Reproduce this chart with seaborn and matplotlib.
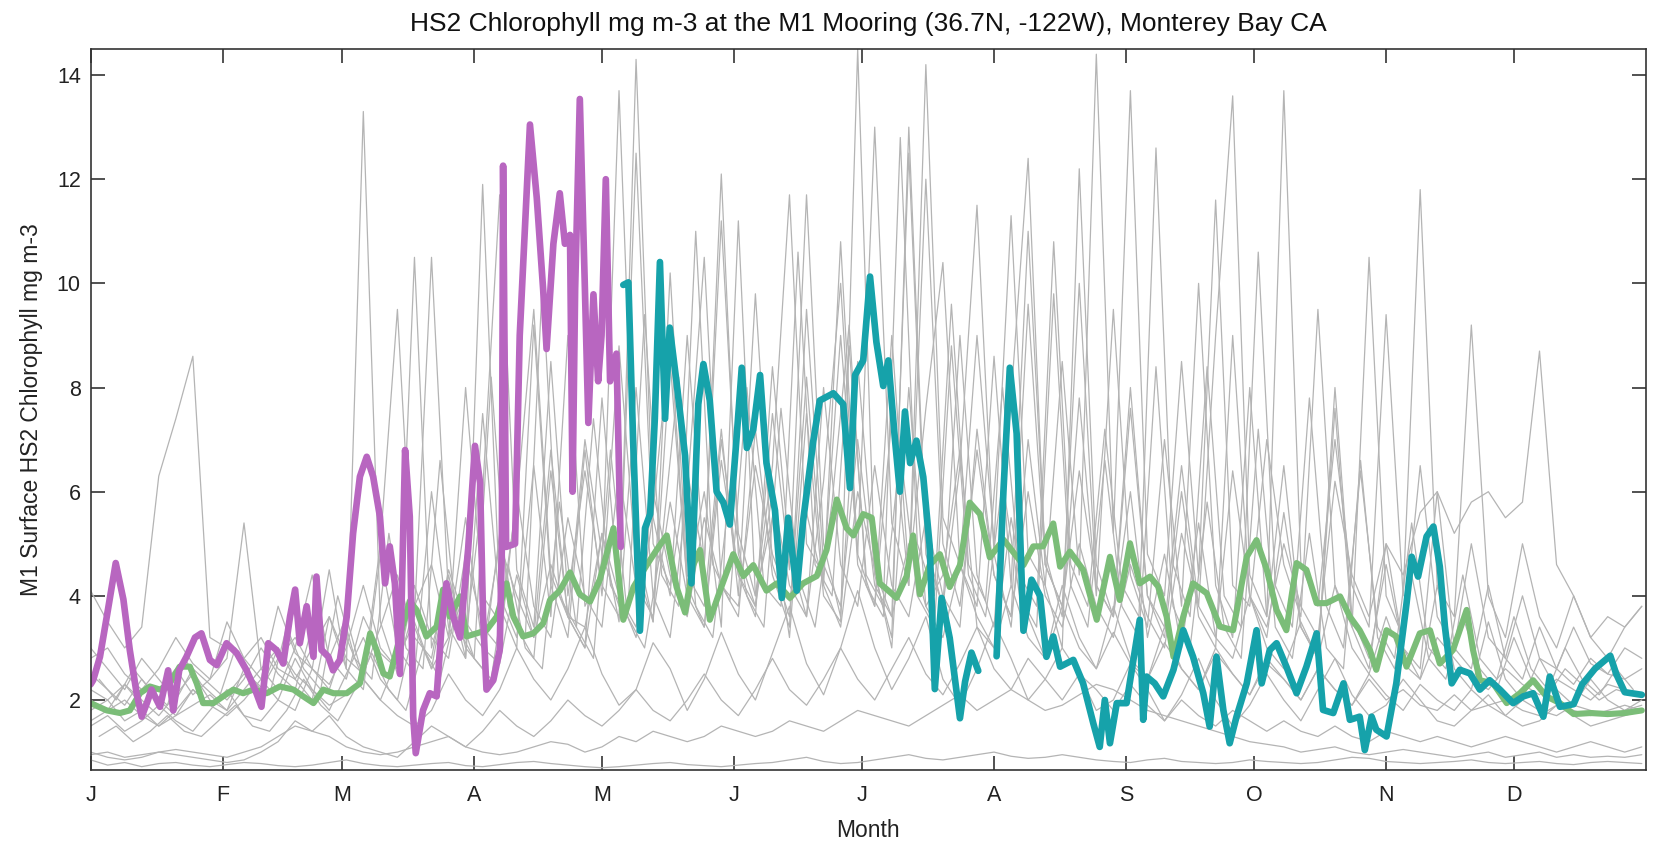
import numpy as np
import pandas as pd
import matplotlib
matplotlib.use("Agg")
import matplotlib.pyplot as plt
import seaborn as sns

# --- eixo do tempo (dia do ano) ---
month_starts = [0, 31, 59, 90, 120, 151, 181, 212, 243, 273, 304, 334]
month_labels = ["J", "F", "M", "A", "M", "J", "J", "A", "S", "O", "N", "D"]
y_ticks = [2, 4, 6, 8, 10, 12, 14]

# anos anteriores (cinza), amostrados a cada 4 dias
gray_step = 4
gray_a = [0.85, 0.75, 0.8, 0.72, 0.78, 0.8, 0.75, 0.72, 0.76, 0.8,
          0.78, 0.74, 0.72, 0.75, 0.8, 0.85, 0.78, 0.74, 0.72, 0.75,
          0.78, 0.8, 0.74, 0.72, 0.76, 0.8, 0.82, 0.78, 0.75, 0.72,
          0.7, 0.72, 0.75, 0.78, 0.8, 0.76, 0.74, 0.72, 0.75, 0.78,
          0.8, 0.85, 0.9, 0.82, 0.78, 0.8, 0.85, 0.9, 0.95, 0.88,
          0.85, 0.9, 0.95, 1.0, 0.92, 0.88, 0.9, 0.95, 0.9, 0.85,
          0.82, 0.8, 0.85, 0.88, 0.82, 0.8, 0.78, 0.8, 0.85, 0.82,
          0.8, 0.78, 0.8, 0.85, 0.9, 0.88, 0.82, 0.8, 0.78, 0.8,
          0.82, 0.85, 0.8, 0.78, 0.8, 0.82, 0.78, 0.76, 0.8, 0.82,
          0.8, 0.78]
gray_b = [0.95, 1.0, 0.9, 0.95, 1.0, 1.05, 1.0, 0.95, 0.9, 1.0,
          1.1, 1.3, 1.5, 1.4, 1.3, 1.1, 1.0, 0.95, 1.0, 1.1,
          1.2, 1.3, 1.1, 1.0, 0.95, 1.0, 1.1, 1.2, 1.15, 1.0,
          1.1, 1.3, 1.2, 1.4, 1.3, 1.2, 1.3, 1.5, 1.4, 1.3,
          1.4, 1.6, 1.5, 1.4, 1.6, 1.8, 1.7, 1.6, 1.5, 1.7,
          1.9, 2.1, 1.8, 2.0, 2.2, 2.0, 1.8, 1.9, 2.1, 2.3,
          2.2, 2.0, 1.8, 1.7, 1.6, 1.5, 1.4, 1.3, 1.2, 1.15,
          1.1, 1.0, 1.05, 1.1, 1.0, 0.95, 1.0, 1.05, 1.0, 0.95,
          0.9, 0.95, 1.0, 0.9, 0.95, 1.0, 0.9, 0.95, 0.9, 0.92,
          0.9, 0.95]
gray_c = [2.2, 2.0, 1.6, 1.8, 1.5, 1.7, 1.9, 2.1, 1.8, 2.2,
          2.6, 3.0, 2.5, 2.2, 1.9, 2.1, 2.4, 2.0, 1.7, 1.5,
          1.8, 2.5, 2.0, 1.7, 2.2, 3.0, 2.4, 2.0, 2.6, 3.4,
          2.5, 1.9, 2.2, 3.1, 2.6, 1.8, 2.4, 3.3, 2.5, 2.0,
          2.9, 3.8, 2.7, 2.1, 3.0, 4.1, 3.0, 2.2, 2.8, 3.6,
          2.4, 1.9, 2.6, 3.5, 2.8, 2.0, 2.4, 3.0, 2.5, 1.8,
          2.0, 2.7, 2.2, 1.6, 2.1, 2.8, 2.0, 1.5, 1.9, 2.5,
          2.0, 1.6, 2.2, 2.8, 2.1, 1.7, 1.9, 2.4, 2.0, 1.6,
          1.5, 1.8, 2.1, 1.7, 1.5, 1.6, 1.9, 1.7, 1.5, 1.6,
          1.7, 1.8]
gray_d = [4.1, 3.5, 3.0, 3.4, 6.3, 7.4, 8.6, 3.2, 3.0, 2.8,
          3.2, 2.6, 2.4, 3.0, 3.6, 2.8, 2.5, 3.4, 4.4, 3.2,
          2.8, 4.5, 3.5, 3.0, 5.0, 4.0, 3.2, 4.6, 3.6, 3.4,
          5.2, 4.0, 3.4, 6.0, 4.4, 3.6, 5.5, 4.2, 3.8, 6.5,
          4.8, 3.9, 5.6, 4.2, 3.4, 6.0, 4.5, 3.6, 5.0, 3.8,
          3.2, 4.6, 3.6, 3.0, 4.2, 3.2, 2.8, 3.8, 3.0, 2.6,
          3.3, 2.7, 2.4, 3.1, 2.6, 2.2, 2.9, 2.5, 2.1, 2.7,
          2.4, 2.0, 2.6, 2.2, 1.9, 2.5, 2.1, 1.8, 2.3, 2.0,
          1.8, 2.2, 1.9, 1.7, 2.0, 1.8, 1.7, 1.9, 1.8, 1.7,
          1.8, 1.9]
gray_e = [2.8, 3.0, 2.5, 2.2, 2.6, 3.2, 2.7, 2.4, 3.5, 2.8,
          2.4, 3.8, 2.9, 2.6, 4.5, 2.6, 13.3, 3.5, 2.5, 10.5,
          3.0, 4.2, 2.8, 11.9, 4.0, 3.2, 6.5, 3.6, 9.0, 3.8,
          4.5, 13.7, 5.0, 3.5, 8.5, 4.2, 6.0, 3.4, 11.2, 4.0,
          5.5, 3.2, 7.5, 4.0, 3.5, 14.5, 4.5, 3.0, 8.0, 3.8,
          4.4, 6.8, 3.4, 3.0, 5.5, 3.6, 2.8, 4.2, 3.2, 2.6,
          3.8, 2.8, 2.4, 3.4, 2.6, 2.2, 3.0, 2.5, 2.1, 2.8,
          2.4, 2.0, 2.6, 2.2, 1.9, 2.4, 2.0, 2.2, 1.9, 1.8,
          2.1, 1.8, 1.9, 2.0, 1.8, 1.7, 1.9, 1.8, 1.7, 1.8,
          1.9, 1.8]
gray_f = [1.8, 2.0, 2.3, 1.9, 2.2, 2.6, 2.1, 2.4, 2.8, 5.4,
          2.6, 2.2, 3.0, 4.4, 2.8, 3.6, 2.4, 5.0, 9.5, 3.6,
          10.5, 4.0, 3.2, 6.0, 11.7, 4.5, 3.4, 8.5, 4.0, 6.4,
          4.2, 3.6, 14.3, 5.5, 4.0, 9.0, 4.6, 12.1, 4.8, 3.8,
          7.5, 4.5, 11.7, 5.0, 3.6, 8.5, 4.4, 3.2, 13.0, 5.0,
          3.8, 6.5, 11.5, 4.8, 3.4, 7.0, 4.2, 3.0, 12.2, 4.6,
          3.6, 6.0, 3.2, 4.8, 3.0, 5.4, 3.2, 2.8, 4.0, 3.0,
          2.6, 3.5, 2.8, 4.2, 3.0, 2.5, 3.6, 2.7, 2.4, 3.2,
          2.8, 2.4, 2.2, 2.6, 2.3, 2.1, 2.4, 2.2, 2.0, 2.3,
          2.2, 2.1]
gray_g = [2.5, 2.2, 1.9, 2.4, 2.0, 1.7, 2.2, 1.9, 2.1, 2.5,
          2.2, 2.8, 3.2, 2.6, 2.3, 3.0, 4.2, 3.0, 2.6, 3.8,
          4.6, 3.2, 8.0, 4.0, 3.5, 5.8, 9.5, 4.4, 3.6, 7.0,
          4.8, 3.8, 12.5, 5.0, 4.2, 6.4, 4.6, 11.2, 5.2, 4.0,
          6.5, 11.7, 5.0, 4.4, 9.0, 4.8, 13.0, 5.4, 4.2, 14.2,
          5.5, 4.6, 9.0, 5.0, 11.3, 4.8, 4.2, 8.5, 4.4, 14.4,
          5.2, 13.7, 4.8, 4.0, 8.5, 4.4, 11.6, 4.2, 3.8, 7.0,
          4.6, 3.6, 9.5, 4.2, 3.4, 10.5, 4.0, 3.2, 6.5, 3.6,
          3.0, 5.0, 3.2, 2.8, 4.0, 2.8, 2.6, 3.4, 2.7, 2.5,
          3.0, 2.8]
gray_h = [1.6, 1.8, 2.0, 1.7, 1.5, 1.8, 2.2, 1.9, 1.7, 2.0,
          2.4, 2.0, 1.8, 2.6, 2.2, 3.2, 2.4, 2.0, 2.8, 3.5,
          2.6, 3.2, 5.5, 3.0, 2.7, 4.4, 3.2, 6.8, 3.6, 3.0,
          5.2, 3.5, 8.0, 4.0, 3.2, 6.0, 10.5, 4.2, 3.6, 7.2,
          4.4, 3.4, 9.5, 4.6, 3.8, 7.0, 4.2, 3.6, 12.5, 4.8,
          3.8, 9.0, 4.4, 3.4, 7.8, 12.4, 4.6, 3.8, 10.0, 4.2,
          3.6, 8.0, 4.0, 3.4, 6.5, 3.8, 9.0, 13.6, 4.4, 3.6,
          13.7, 4.6, 3.8, 7.0, 4.2, 3.4, 9.4, 4.0, 11.8, 4.2,
          3.6, 9.2, 4.0, 3.2, 5.0, 3.6, 3.0, 4.0, 3.2, 3.6,
          3.4, 3.8]
gray_i = [3.0, 2.6, 2.2, 2.8, 2.4, 2.0, 2.6, 2.3, 2.0, 2.4,
          3.0, 2.5, 2.2, 3.4, 2.8, 2.4, 3.6, 2.9, 2.6, 4.2,
          3.2, 2.8, 4.8, 3.4, 3.0, 6.0, 3.8, 3.2, 5.5, 4.0,
          3.4, 6.4, 4.2, 3.6, 5.8, 4.0, 3.4, 7.0, 4.4, 3.8,
          6.0, 4.2, 3.6, 8.0, 4.6, 3.8, 6.5, 4.2, 3.6, 5.5,
          4.0, 3.4, 7.2, 4.4, 3.6, 6.0, 4.0, 3.4, 5.0, 3.8,
          3.2, 4.6, 3.6, 3.0, 5.2, 3.8, 3.2, 6.4, 4.0, 3.4,
          5.0, 3.8, 3.2, 6.2, 4.4, 3.6, 5.0, 4.4, 5.6, 6.0,
          5.2, 5.8, 6.0, 5.5, 5.8, 8.7, 4.6, 4.0, 3.2, 2.8,
          3.4, 3.8]
gray_j = [1.0, 0.9, 0.85, 0.9, 1.0, 0.95, 0.9, 0.85, 0.8, 0.85,
          1.0, 1.2, 1.6, 1.4, 1.7, 1.3, 1.1, 1.0, 0.9, 1.2,
          1.5, 1.3, 1.1, 1.4, 1.8, 1.5, 1.3, 1.6, 2.0, 1.7,
          1.5, 1.8, 2.2, 1.8, 1.6, 2.0, 2.5, 2.0, 1.7, 2.2,
          2.8, 2.2, 1.9, 2.4, 3.0, 2.4, 2.0, 2.6, 3.2, 2.5,
          2.1, 2.7, 3.4, 2.6, 2.2, 2.8, 2.4, 2.0, 2.5, 2.2,
          1.8, 2.3, 1.9, 1.6, 2.0, 1.7, 1.5, 1.8, 1.6, 1.4,
          1.6, 1.4, 1.3, 1.5, 1.3, 1.2, 1.4, 1.3, 1.2, 1.3,
          1.2, 1.1, 1.2, 1.3, 1.2, 1.1, 1.0, 1.1, 1.2, 1.1,
          1.0, 1.1]
gray_k = [2.0, 1.8, 2.3, 2.0, 1.7, 2.1, 2.5, 2.0, 1.8, 2.6,
          2.2, 3.0, 2.4, 2.0, 3.6, 2.6, 2.2, 4.8, 3.0, 2.5,
          6.0, 3.4, 2.8, 7.5, 3.8, 3.0, 9.2, 4.2, 3.2, 6.8,
          4.0, 8.8, 4.6, 3.5, 10.2, 4.4, 3.8, 7.2, 4.0, 9.8,
          4.6, 3.6, 8.2, 4.2, 10.8, 4.8, 3.8, 9.0, 4.4, 7.6,
          10.4, 4.6, 3.8, 8.6, 4.2, 11.0, 4.8, 3.6, 7.8, 4.0,
          9.5, 4.4, 3.4, 7.0, 3.8, 10.0, 4.2, 3.2, 8.0, 3.6,
          6.5, 3.4, 2.8, 7.6, 3.4, 2.6, 5.0, 3.0, 2.4, 4.2,
          2.6, 2.2, 3.5, 2.4, 2.0, 2.8, 2.2, 1.9, 2.4, 2.0,
          1.8, 2.0]
gray_l = [1.5, 1.7, 1.4, 1.6, 1.9, 1.6, 1.4, 1.8, 2.2, 1.7,
          1.6, 2.0, 2.8, 2.2, 1.8, 2.5, 3.2, 2.4, 2.0, 3.4,
          2.6, 4.4, 3.0, 2.6, 5.2, 3.4, 2.8, 6.4, 3.6, 3.0,
          7.8, 4.0, 3.2, 5.6, 9.0, 4.2, 3.4, 6.6, 4.4, 3.6,
          8.4, 4.8, 3.6, 6.2, 10.0, 4.6, 3.8, 7.4, 4.2, 12.0,
          5.0, 3.8, 6.8, 4.4, 3.6, 9.6, 4.6, 3.8, 6.4, 4.2,
          3.6, 7.6, 4.0, 3.2, 6.0, 3.6, 3.0, 9.0, 4.0, 3.2,
          5.6, 3.4, 2.8, 8.0, 3.6, 2.8, 4.6, 3.0, 2.6, 6.0,
          3.0, 2.6, 4.2, 2.8, 2.4, 3.4, 2.6, 2.3, 2.8, 2.5,
          2.4, 2.6]
# dois anos com amostragem deslocada em 2 dias (dias 2, 6, ..., 362)
gray_m = [2.4, 2.0, 2.6, 2.2, 1.9, 2.8, 2.3, 2.0, 3.0, 2.4,
          2.1, 3.4, 2.6, 2.2, 4.0, 2.8, 2.4, 5.2, 3.0, 2.6,
          6.6, 3.4, 2.8, 8.2, 3.8, 3.2, 10.0, 4.0, 3.4, 7.4,
          4.2, 3.6, 9.4, 4.4, 3.8, 11.0, 4.6, 3.9, 8.0, 4.2,
          3.8, 10.6, 4.6, 4.0, 8.8, 4.4, 3.8, 12.8, 5.0, 4.0,
          9.6, 4.6, 3.9, 8.0, 4.4, 3.8, 10.8, 4.6, 3.8, 7.2,
          4.2, 3.6, 12.6, 4.6, 3.6, 8.4, 4.0, 3.4, 10.6, 4.2,
          3.4, 7.8, 3.8, 3.0, 6.4, 3.4, 2.8, 5.4, 3.0, 2.6,
          4.4, 2.8, 2.4, 3.6, 2.6, 2.2, 3.0, 2.4, 2.1, 2.6,
          2.2]
gray_n = [1.3, 1.5, 1.2, 1.4, 1.7, 1.4, 1.3, 1.6, 1.9, 1.5,
          1.4, 1.8, 2.4, 1.9, 1.6, 2.2, 2.9, 2.2, 1.8, 3.0,
          2.4, 3.8, 2.8, 2.4, 4.6, 3.0, 2.6, 5.8, 3.4, 2.8,
          6.8, 3.6, 3.0, 5.0, 8.2, 3.8, 3.2, 6.0, 4.0, 3.4,
          7.6, 4.4, 3.4, 5.8, 9.2, 4.2, 3.6, 6.8, 4.0, 3.4,
          8.8, 4.4, 3.6, 6.2, 4.0, 3.4, 9.8, 4.2, 3.4, 6.6,
          3.8, 3.2, 8.4, 3.8, 3.0, 5.8, 3.4, 2.8, 7.2, 3.4,
          2.8, 5.2, 3.0, 2.6, 6.6, 3.2, 2.6, 4.4, 2.8, 2.4,
          3.6, 2.6, 2.2, 3.2, 2.4, 2.1, 2.6, 2.3, 2.0, 2.2,
          2.1]

# ano em destaque 1 (roxo), jan-mai
purple_day = [0, 0.6, 2.2, 3.8, 5.9, 7.7, 9.2, 10.8, 12, 13.2, 14.3, 16.3, 18.2, 19.4,
              20.8, 22.5, 24.5, 26, 28, 29.6, 31.9, 34.3, 36.6, 38.6, 40.1, 41.7, 43.6,
              45.2, 46.8, 48, 49.1, 50.7, 52.3, 53, 54.2, 55.8, 56.9, 58.5, 60.1, 61.6,
              63.2, 64.8, 66.3, 67.9, 69.1, 70.2, 71.4, 72.6, 73.8, 74.9, 75.7, 76.3, 78,
              79.6, 81.2, 82.3, 83.5, 85.1, 86.7, 88.6, 90.2, 91.4, 92.1, 92.9, 94.5, 96,
              96.5, 96.8, 97.5, 99.6, 100.7, 103.1, 104.7, 106.2, 107, 108.6, 110.1, 111.3,
              112.5, 113.1, 113.7, 114.8, 116, 116.8, 118, 119.1, 119.9, 120.9, 121.9,
              123.4, 124.4]
purple_chl = [2.3, 2.38, 2.83, 3.6, 4.63, 3.93, 2.96, 2.13, 1.68, 1.94, 2.2, 1.87, 2.57, 1.8,
              2.57, 2.83, 3.2, 3.28, 2.77, 2.67, 3.09, 2.9, 2.57, 2.2, 1.87, 3.09, 2.96,
              2.7, 3.6, 4.12, 3.09, 3.8, 2.83, 4.37, 2.96, 2.83, 2.57, 2.77, 3.6, 5.2,
              6.29, 6.67, 6.29, 5.52, 4.24, 4.95, 4.24, 2.5, 6.8, 5.52, 1.68, 0.98, 1.8,
              2.13, 2.07, 3.34, 4.24, 3.6, 3.2, 4.9, 6.88, 6.17, 3.6, 2.2, 2.38, 2.96,
              4.9, 12.26, 4.94, 5.0, 9.0, 13.05, 11.64, 9.88, 8.74, 10.76, 11.73, 10.76,
              10.93, 6.0, 9.88, 13.54, 9.88, 7.32, 9.79, 8.12, 9.0, 12.0, 8.12,
              8.65, 4.94]

# ano em destaque 2 (azul-petroleo), mai-dez, com falha em fins de julho
teal_day = [125, 126.2, 127.3, 128.9, 130.1, 131.3, 132.4, 133.6, 134.8, 135.9, 137.5, 139.5,
            141, 142.6, 143.8, 145.3, 146.9, 148.5, 150, 151.6, 152.8, 154, 155.5, 157.1,
            158.6, 160.6, 162.2, 163.7, 165.7, 167.2, 169.6, 171.1, 174.3, 176.6, 178.2,
            179.4, 181.3, 182.9, 184.4, 186, 187.2, 188.7, 189.9, 191.1, 192.3, 193.8,
            195.4, 196.9, 198.1, 199.7, 201.6, 204, 205.2, 206.7, 208.3, 210,
            212.6, 214.2, 215.7, 217.3, 218.9, 220.8, 222.8, 224.3, 225.9, 227.5, 230.6,
            232.9, 235.3, 236.8, 238, 239.2, 240.8, 243.1, 244.7, 246.2, 247, 247.8, 249.7,
            251.7, 254.1, 256.4, 258.7, 261.1, 262.6, 264.2, 265.8, 267.3, 268.9, 271.3,
            273.6, 274.8, 276.7, 278.3, 280.6, 283, 285.3, 287.7, 289.2, 291.6, 294,
            295.5, 297.8, 299, 300.6, 301.7, 304.1, 306.4, 308.8, 310, 311.5, 313.5,
            315.1, 316.6, 317.8, 319.4, 321.3, 323.7, 326, 328.3, 330.7, 333.8, 336.2,
            338.5, 340.9, 342.4, 344.8, 348, 350, 353, 356.6, 358, 360, 364]
teal_chl = [9.97, 10.02, 7.0, 3.33, 5.3, 5.57, 7.4, 10.41, 7.4, 9.15, 8.1, 6.69,
            4.24, 7.68, 8.45, 7.75, 6.0, 5.79, 5.37, 7.05, 8.38, 6.84, 7.19, 8.24,
            6.55, 5.64, 3.96, 5.5, 4.1, 5.44, 6.98, 7.75, 7.89, 7.68, 6.07,
            8.24, 8.52, 10.13, 8.87, 8.03, 8.52, 7.05, 6.0, 7.54, 6.55, 6.98,
            6.28, 4.95, 2.21, 3.96, 3.19, 1.65, 2.35, 2.91, 2.56, np.nan,
            2.84, 6.0, 8.38, 7.12, 3.33, 4.31, 4.0, 2.83, 3.22, 2.64, 2.77,
            2.32, 1.55, 1.1, 2.0, 1.17, 1.94, 1.94, 2.77, 3.54, 1.62, 2.45, 2.32,
            2.07, 2.58, 3.34, 2.83, 2.13, 1.49, 2.83, 1.81, 1.17, 1.68, 2.32,
            3.34, 2.32, 2.96, 3.09, 2.64, 2.13, 2.64, 3.28, 1.81, 1.75, 2.32,
            1.62, 1.68, 1.04, 1.68, 1.43, 1.3, 2.32, 3.86, 4.75, 4.37, 5.14,
            5.33, 4.56, 3.41, 2.32, 2.58, 2.51, 2.2, 2.38, 2.2, 1.94, 2.07,
            2.13, 1.68, 2.45, 1.87, 1.92, 2.3, 2.6, 2.85, 2.5, 2.15, 2.1]

# media climatologica (verde)
green_day = [0, 3.8, 6.9, 9.2, 11.6, 13.9, 16.3, 18.6, 20.9, 23.3, 24.9, 26.4, 28.8, 31.1,
             33.5, 35.8, 38.2, 41.3, 44.4, 47.6, 49.9, 52.3, 54.6, 57, 60.1, 63.2, 65.6,
             67.1, 68.7, 70.2, 71.8, 73.4, 74.9, 76.5, 78.8, 81.2, 82.7, 84.3, 86.7, 88.2,
             90.6, 92.9, 95.3, 97.6, 99.2, 101.5, 103.9, 106.2, 107.8, 110.1, 112.5, 114.8,
             117.2, 119.5, 122.7, 125, 127.4, 130.5, 132.8, 135.2, 137.5, 139.5, 141.4, 143,
             145.3, 147.7, 150.8, 153.2, 155.5, 158.6, 161, 164.1, 167.2, 170.4, 172.7,
             175.1, 177.4, 179, 181.3, 183.3, 185.2, 187.2, 189.1, 191.5, 193, 194.6, 196.9,
             199.3, 201.6, 204, 206.3, 208.7, 211, 214.2, 218.9, 221.2, 223.5, 225.9, 227.5,
             229.8, 232.9, 236.1, 239.2, 241.5, 243.9, 246.2, 248.6, 250.5, 252.5, 254.1,
             256.4, 258.7, 261.9, 265, 268.1, 271.3, 273.6, 276, 278.3, 280.6, 283, 285.3,
             287.7, 290, 293.2, 295.5, 297.8, 300.2, 301.7, 304.1, 306.4, 308.8, 311.9,
             314.3, 316.6, 319.7, 322.9, 324.4, 326, 329.1, 332.3, 335.4, 338.5, 341.6,
             344.8, 348, 352, 356, 360, 364]
green_chl = [1.94, 1.8, 1.75, 1.8, 2.13, 2.26, 2.2, 2.32, 2.64, 2.64, 2.32, 1.94, 1.94, 2.07,
             2.2, 2.13, 2.2, 2.13, 2.26, 2.2, 2.07, 1.94, 2.2, 2.13, 2.13, 2.32, 3.28,
             2.96, 2.51, 2.45, 2.96, 3.47, 3.9, 3.73, 3.22, 3.41, 4.12, 3.6, 3.99, 3.22,
             3.28, 3.34, 3.6, 4.24, 3.6, 3.22, 3.28, 3.47, 3.92, 4.1, 4.45, 4.03,
             3.89, 4.31, 5.3, 3.54, 4.17, 4.59, 4.88, 5.16, 4.17, 3.68, 4.59, 4.88,
             3.54, 4.1, 4.8, 4.38, 4.59, 4.1, 4.24, 3.96, 4.24, 4.38, 4.88,
             5.85, 5.3, 5.16, 5.57, 5.5, 4.24, 4.1, 3.96, 4.38, 5.16, 4.03, 4.59,
             4.8, 4.17, 4.59, 5.79, 5.57, 4.74, 5.08, 4.59, 4.95, 4.95, 5.39, 4.56,
             4.85, 4.5, 3.54, 4.75, 3.92, 5.01, 4.24, 4.37, 4.18, 3.6, 2.83,
             3.6, 4.24, 4.05, 3.41, 3.34, 4.75, 5.07, 4.5, 3.73, 3.34, 4.63, 4.5,
             3.86, 3.86, 3.99, 3.6, 3.34, 2.96, 2.58, 3.34, 3.22, 2.64, 3.28,
             3.34, 2.7, 2.96, 3.73, 2.96, 2.38, 2.32, 1.94, 2.13, 2.38, 2.07,
             1.94, 1.73, 1.75, 1.73, 1.75, 1.8]

# --- estilo ---
sns.set_style("ticks")
plt.rcParams["font.family"] = ["Liberation Sans", "DejaVu Sans"]

fig = plt.figure(figsize=(16.53, 8.42), dpi=100)
ax = fig.add_axes([0.0548, 0.0855, 0.9410, 0.8563])

# anos anteriores em cinza
grade_a = np.arange(0, 365, gray_step)
grade_b = np.arange(2, 365, gray_step)
gray_years = [(grade_a, gray_a), (grade_a, gray_b), (grade_a, gray_c), (grade_a, gray_d),
              (grade_a, gray_e), (grade_a, gray_f), (grade_a, gray_g), (grade_a, gray_h),
              (grade_a, gray_i), (grade_a, gray_j), (grade_a, gray_k), (grade_a, gray_l),
              (grade_b, gray_m), (grade_b, gray_n)]
partes = []
for k, (dias, vals) in enumerate(gray_years):
    partes.append(pd.DataFrame({"day": dias, "chl": vals, "ano": k}))
gray_df = pd.concat(partes, ignore_index=True)
sns.lineplot(data=gray_df, x="day", y="chl", units="ano", estimator=None,
             color="#b4b4b4", linewidth=0.9, legend=False, ax=ax)

# media (verde)
sns.lineplot(x=green_day, y=green_chl, estimator=None, color="#7bbd78",
             linewidth=4.4, ax=ax)

# ano roxo
sns.lineplot(x=purple_day, y=purple_chl, estimator=None, color="#b866c0",
             linewidth=4.8, ax=ax)

# ano azul: separa os trechos na falha (NaN)
df_teal = pd.DataFrame({"day": teal_day, "chl": teal_chl})
df_teal["trecho"] = df_teal["chl"].isna().cumsum()
df_teal = df_teal.dropna()
sns.lineplot(data=df_teal, x="day", y="chl", units="trecho", estimator=None,
             color="#16a2aa", linewidth=4.8, legend=False, ax=ax)

# --- eixos ---
ax.set_xlim(0, 365)
ax.set_ylim(0.656, 14.5)
ax.set_xticks(month_starts)
ax.set_xticklabels(month_labels)
ax.set_yticks(y_ticks)
ax.tick_params(direction="in", length=10, width=1.1, top=True, right=True,
               labelsize=15.5, colors="#222222")
ax.tick_params(axis="x", pad=11)
ax.tick_params(axis="y", pad=7)
for sp in ax.spines.values():
    sp.set_linewidth(1.2)
    sp.set_color("#333333")

ax.set_title("HS2 Chlorophyll mg m-3 at the M1 Mooring (36.7N, -122W), Monterey Bay CA",
             fontsize=19, pad=13, color="#111111")
ax.set_xlabel("Month", fontsize=16.5, labelpad=9, color="#222222")
ax.set_ylabel("M1 Surface HS2 Chlorophyll mg m-3", fontsize=16.5, labelpad=10,
              color="#222222")

fig.savefig("out.png", dpi=100)
plt.close(fig)
